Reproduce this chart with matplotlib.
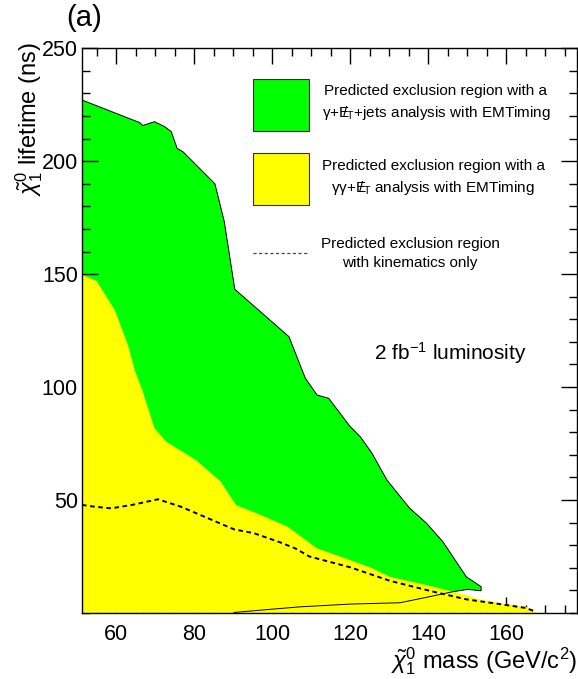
import matplotlib
matplotlib.use("Agg")
import matplotlib.pyplot as plt
from matplotlib.patches import Rectangle
from matplotlib.lines import Line2D
from matplotlib.ticker import MultipleLocator

plt.rcParams['font.family'] = ['Liberation Sans', 'DejaVu Sans']
plt.rcParams['mathtext.fontset'] = 'custom'
plt.rcParams['mathtext.rm'] = 'Liberation Sans'
plt.rcParams['mathtext.it'] = 'Liberation Sans:italic'
plt.rcParams['mathtext.bf'] = 'Liberation Sans:bold'

# green region: gamma+MET+jets with EMTiming (upper edge, then lower edge back)
green_upper_x = [51.2, 66.0, 66.8, 69.8, 72.4, 74.1, 75.6, 77.1, 85.3, 87.7, 90.4,
                 104.3, 108.5, 111.5, 114.5, 120.0, 122.6, 125.6, 129.4, 135.3,
                 139.6, 143.8, 145.5, 149.8, 153.6]
green_upper_y = [227.1, 217.1, 215.8, 217.5, 215.3, 213.1, 205.7, 204.2, 190.0, 173.3, 143.3,
                 122.3, 103.9, 96.5, 95.0, 82.5, 78.0, 70.7, 58.9, 46.3,
                 39.7, 31.5, 27.1, 16.0, 11.6]
green_lower_x = [153.6, 150.2, 146.4, 139.6, 132.8, 120.0, 107.3, 99.6, 90.2, 51.2]
green_lower_y = [9.8, 10.4, 9.4, 6.9, 4.5, 3.9, 2.7, 1.6, 0.2, 0.0]

# yellow region: gamma gamma+MET with EMTiming
yellow_x = [51.2, 54.9, 59.6, 63.0, 64.7, 66.8, 69.8, 72.8, 80.4, 86.8, 90.7, 97.0,
            103.9, 111.5, 125.1, 130.2, 141.3, 149.8, 153.2, 160.0, 165.1, 168.1]
yellow_y = [149.6, 147.1, 134.1, 118.6, 107.6, 98.0, 81.8, 75.8, 67.7, 58.1, 47.8, 43.4,
            38.2, 28.6, 20.2, 16.0, 11.6, 7.9, 6.0, 3.9, 2.7, 0.0]

# kinematics only (dashed)
kin_x = [51.2, 54.5, 58.7, 64.0, 70.7, 76.6, 90.2, 95.3, 102.1, 106.0, 109.5, 120.0,
         130.2, 141.3, 149.8, 160.0, 165.0, 167.7]
kin_y = [47.8, 47.0, 46.3, 47.8, 50.3, 47.0, 37.0, 35.3, 31.2, 28.5, 25.0, 20.2,
         14.2, 9.4, 6.0, 3.5, 2.2, 0.5]

met = "$\\mathrm{E}\\!\\!\\!/_\\mathrm{T}$"
legend_lines = ["Predicted exclusion region with a\n"
                "γ+" + met + "+jets analysis with EMTiming",
                "Predicted exclusion region with a\n"
                "γγ+" + met + " analysis with EMTiming",
                "Predicted exclusion region\nwith kinematics only"]

W, H = 578, 679
fig = plt.figure(figsize=(W / 100, H / 100), dpi=100)
ax = fig.add_axes([82 / W, 1 - 612.9 / H, (577 - 82) / W, (612.9 - 48.3) / H])

gx = green_upper_x + green_lower_x
gy = green_upper_y + green_lower_y
ax.fill(gx, gy, color='#00ff00', lw=0, zorder=1)
ax.fill(yellow_x + [51.2], yellow_y + [0.0], color='#ffff00', lw=0, zorder=2)
ax.plot(gx[:-1], gy[:-1], color='black', lw=0.7, zorder=3)
ax.plot(kin_x, kin_y, color='black', lw=1.4, ls=(0, (2.4, 1.8)), zorder=4)

ax.set_xlim(51.2, 178.2)
ax.set_ylim(0, 250)
ax.xaxis.set_major_locator(MultipleLocator(20))
ax.xaxis.set_minor_locator(MultipleLocator(5))
ax.yaxis.set_major_locator(MultipleLocator(50))
ax.yaxis.set_minor_locator(MultipleLocator(10))
ax.tick_params(which='both', direction='in', top=True, right=True, width=1, labelsize=15.5)
ax.tick_params(which='major', length=11.5)
ax.tick_params(which='minor', length=6)
ax.tick_params(axis='x', pad=8)
ax.tick_params(axis='y', pad=3)
ax.set_xticks([60, 80, 100, 120, 140, 160])
ax.set_xticklabels(['60', '80', '100', '120', '140', '160'])
ax.set_yticks([50, 100, 150, 200, 250])
for s in ax.spines.values():
    s.set_linewidth(1)

fig.text(577 / W, 1 - 661 / H, r'$\tilde{\chi}_1^0$ mass (GeV/c$^2$)', fontsize=17,
         ha='right', va='center')
fig.text(29 / W, 1 - 42 / H, r'$\tilde{\chi}_1^0$ lifetime (ns)', fontsize=17,
         rotation=90, ha='center', va='top')
fig.text(84 / W, 1 - 18 / H, '(a)', fontsize=21, ha='center', va='center')
fig.text(374 / W, 1 - 353 / H, '2 fb$^{-1}$ luminosity', fontsize=15, ha='left', va='center')

# legend
tf = fig.transFigure
for top, col in [(79.3, '#00ff00'), (153.3, '#ffff00')]:
    fig.patches.append(Rectangle((252.7 / W, 1 - (top + 51.7) / H), 56.6 / W, 51.7 / H,
                                 facecolor=col, edgecolor='#333333', lw=0.8, transform=tf))
fig.lines.append(Line2D([252.7 / W, 309.3 / W], [1 - 252.7 / H] * 2, color='#444444',
                        lw=0.9, ls=(0, (2.5, 2)), transform=tf))
fig.text(436 / W, 1 - 102.8 / H, legend_lines[0], fontsize=11, ha='center', va='center',
         linespacing=1.5)
fig.text(433 / W, 1 - 177.8 / H, legend_lines[1], fontsize=11, ha='center', va='center',
         linespacing=1.5)
fig.text(410 / W, 1 - 253.3 / H, legend_lines[2], fontsize=11, ha='center', va='center',
         linespacing=1.5)

fig.savefig('out.png', dpi=100)
